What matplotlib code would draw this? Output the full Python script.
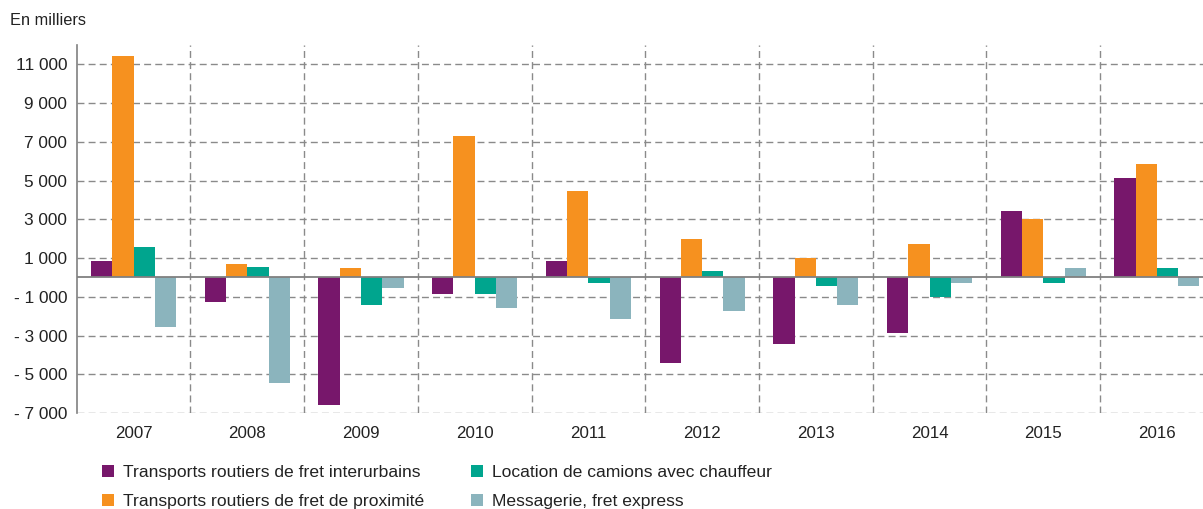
import numpy as np
from matplotlib import pyplot as plt
from matplotlib.patches import Patch

plt.rcParams['font.family'] = ['Liberation Sans', 'DejaVu Sans']

years = ['2007', '2008', '2009', '2010', '2011', '2012', '2013', '2014', '2015', '2016']
series_names = [
    'Transports routiers de fret interurbains',
    'Transports routiers de fret de proximité',
    'Location de camions avec chauffeur',
    'Messagerie, fret express',
]
interurbains = [850, -1270, -6580, -850, 850, -4420, -3440, -2850, 3450, 5150]
proximite = [11430, 680, 500, 7300, 4450, 1990, 1000, 1720, 3000, 5850]
location = [1590, 520, -1430, -850, -280, 320, -420, -1000, -300, 500]
messagerie = [-2560, -5440, -570, -1580, -2140, -1710, -1430, -290, 500, -420]
y_ticks = [-7000, -5000, -3000, -1000, 1000, 3000, 5000, 7000, 9000, 11000]

COLORS = ['#77176B', '#F6911F', '#00A58E', '#8BB4BD']
GRID = '#8a8a8a'
TEXT = '#222222'


def fmt(v):
    s = '{:,}'.format(abs(v)).replace(',', ' ')
    return '- ' + s if v < 0 else s


fig = plt.figure(figsize=(12.03, 5.09), dpi=100)
# right edge of the plot runs past the picture border, as in the source
ax = fig.add_axes([0.0638, 0.1886, 0.9452, 0.723])

x = np.arange(len(years))
width = 0.187
all_series = [interurbains, proximite, location, messagerie]
for i, vals in enumerate(all_series):
    ax.bar(x + (i - 1.5) * width, vals, width, color=COLORS[i], zorder=3,
           label=series_names[i])

ax.set_xlim(-0.5, len(years) - 0.5)
ax.set_ylim(-7000, 12000)

# grid
for yv in y_ticks:
    ax.axhline(yv, color=GRID, lw=1, ls=(0, (5, 3)), zorder=1)
for xv in np.arange(0.5, len(years), 1.0):
    ax.axvline(xv, color=GRID, lw=1, ls=(0, (5, 3)), zorder=1)
ax.axhline(0, color='#808080', lw=1.3, zorder=4)

for side in ['top', 'right', 'bottom']:
    ax.spines[side].set_visible(False)
ax.spines['left'].set_color('#808080')
ax.spines['left'].set_linewidth(1.2)

ax.set_yticks(y_ticks)
ax.set_yticklabels([fmt(v) for v in y_ticks])
ax.set_xticks(x)
ax.set_xticklabels(years)
ax.tick_params(axis='y', length=0, pad=7, labelsize=12.4, colors=TEXT)
ax.tick_params(axis='x', length=0, pad=9, labelsize=12.2, colors=TEXT)

fig.text(0.0083, 0.96, 'En milliers', fontsize=11.8, color=TEXT, va='center')

handles = [Patch(facecolor=c, edgecolor='none') for c in COLORS]
fig.legend(handles, series_names, loc='upper left', bbox_to_anchor=(0.0845, 0.087),
           ncol=2, frameon=False, fontsize=12.6, handlelength=0.7, handleheight=0.7,
           handletextpad=0.5, columnspacing=2.67, labelspacing=0.78,
           borderpad=0, borderaxespad=0, labelcolor=TEXT)

plt.savefig('out.png', dpi=100)
